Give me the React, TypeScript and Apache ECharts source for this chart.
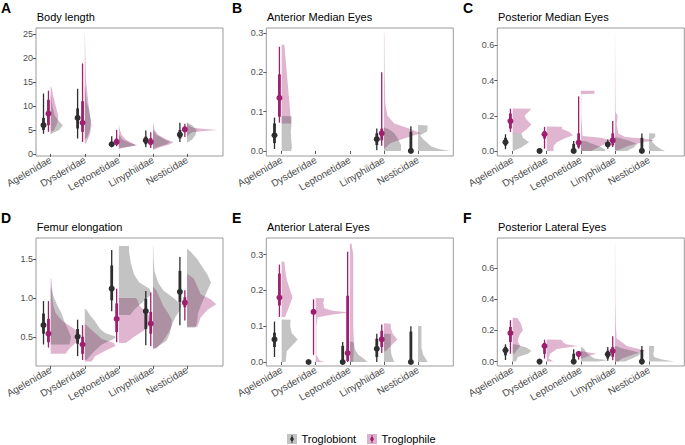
import React, { useEffect, useRef } from "react";
import * as echarts from "echarts";

const families = ["Agelenidae", "Dysderidae", "Leptonetidae", "Linyphiidae", "Nesticidae"];
const groups = ["Troglobiont", "Troglophile"];

// interval rows: [family, group(0 troglobiont, 1 troglophile), lo95, lo66, median, hi66, hi95]
const bodyLengthIntervals = [
  [0, 0, 4.2, 5.0, 6.0, 7.5, 12.6],
  [0, 1, 4.6, 6.0, 8.4, 11.3, 13.2],
  [1, 0, 3.2, 5.3, 7.5, 9.5, 13.6],
  [1, 1, 2.5, 4.6, 6.5, 11.0, 18.9],
  [2, 0, 1.4, 1.7, 2.0, 2.5, 3.7],
  [2, 1, 1.6, 1.9, 2.5, 3.2, 5.0],
  [3, 0, 1.4, 2.0, 2.8, 3.6, 4.9],
  [3, 1, 1.2, 1.8, 2.5, 3.3, 4.5],
  [4, 0, 2.5, 3.2, 4.0, 5.0, 6.5],
  [4, 1, 3.5, 4.6, 5.1, 5.7, 6.3],
];
const ameIntervals = [
  [0, 0, 0.005, 0.02, 0.04, 0.07, 0.085],
  [0, 1, 0.072, 0.087, 0.135, 0.195, 0.265],
  [3, 0, 0.002, 0.015, 0.03, 0.045, 0.057],
  [3, 1, 0.013, 0.027, 0.045, 0.057, 0.2],
  [4, 0, 0, 0, 0, 0.049, 0.063],
];
const pmeIntervals = [
  [0, 0, 0.01, 0.03, 0.05, 0.075, 0.095],
  [0, 1, 0.108, 0.128, 0.17, 0.213, 0.24],
  [1, 0, 0, 0, 0, 0, 0],
  [1, 1, 0.013, 0.07, 0.095, 0.114, 0.137],
  [2, 0, 0, 0, 0, 0.04, 0.057],
  [2, 1, 0.013, 0.02, 0.048, 0.1, 0.31],
  [3, 0, 0.013, 0.025, 0.038, 0.05, 0.065],
  [3, 1, 0.023, 0.032, 0.06, 0.1, 0.17],
  [4, 0, 0, 0, 0, 0.075, 0.1],
];
const femurIntervals = [
  [0, 0, 0.4, 0.54, 0.65, 0.8, 0.96],
  [0, 1, 0.36, 0.43, 0.54, 0.73, 0.96],
  [1, 0, 0.25, 0.41, 0.5, 0.6, 0.72],
  [1, 1, 0.2, 0.28, 0.4, 0.5, 0.65],
  [2, 0, 0.83, 0.97, 1.12, 1.42, 1.62],
  [2, 1, 0.43, 0.56, 0.73, 0.93, 1.12],
  [3, 0, 0.39, 0.6, 0.83, 0.99, 1.09],
  [3, 1, 0.38, 0.54, 0.67, 0.82, 1.07],
  [4, 0, 0.65, 0.95, 1.08, 1.35, 1.53],
  [4, 1, 0.71, 0.88, 0.94, 1.01, 1.1],
];
const aleIntervals = [
  [0, 0, 0.014, 0.042, 0.063, 0.082, 0.113],
  [0, 1, 0.126, 0.158, 0.18, 0.247, 0.272],
  [1, 0, 0, 0, 0, 0, 0],
  [1, 1, 0.02, 0.135, 0.14, 0.145, 0.175],
  [2, 0, 0, 0, 0, 0.045, 0.056],
  [2, 1, 0.0, 0.003, 0.025, 0.185, 0.308],
  [3, 0, 0.0, 0.014, 0.037, 0.065, 0.079],
  [3, 1, 0.025, 0.042, 0.063, 0.087, 0.105],
  [4, 0, 0, 0, 0, 0.085, 0.1],
];
const pleIntervals = [
  [0, 0, 0.01, 0.04, 0.072, 0.095, 0.111],
  [0, 1, 0.05, 0.126, 0.183, 0.222, 0.265],
  [1, 0, 0, 0, 0, 0, 0],
  [1, 1, 0.02, 0.05, 0.1, 0.12, 0.14],
  [2, 0, 0, 0, 0, 0.05, 0.079],
  [2, 1, 0.013, 0.03, 0.05, 0.06, 0.068],
  [3, 0, 0.005, 0.02, 0.047, 0.07, 0.094],
  [3, 1, 0.009, 0.03, 0.068, 0.094, 0.162],
  [4, 0, 0, 0, 0, 0.075, 0.1],
];

// density rows: [family, group, [[value, halfWidth], ...]]
const bodyLengthDensity: any[] = [
  [0, 1, [[4.5, 0], [5, 0.1], [6.5, 0.2], [8, 0.22], [10, 0.15], [12, 0.08], [14, 0.02], [14.2, 0]]],
  [0, 0, [[4, 0], [4.3, 0.05], [5, 0.25], [6, 0.36], [7, 0.22], [8, 0.12], [10, 0.05], [12, 0.01], [12.5, 0]]],
  [1, 1, [[2, 0], [2.5, 0.05], [4, 0.15], [6, 0.2], [8, 0.15], [11, 0.1], [15, 0.04], [20, 0.02], [25, 0.005], [25.2, 0]]],
  [1, 0, [[3, 0], [3.5, 0.08], [5, 0.15], [7, 0.18], [9, 0.13], [11, 0.05], [14, 0.01], [14.2, 0]]],
  [2, 1, [[1, 0], [1.4, 0.2], [1.8, 0.5], [2.2, 0.4], [3, 0.2], [4, 0.08], [5, 0.03], [6, 0.005], [6.1, 0]]],
  [2, 0, [[1.2, 0], [1.5, 0.3], [1.8, 0.55], [2.2, 0.35], [3, 0.1], [4, 0.01], [4.1, 0]]],
  [3, 1, [[0.8, 0], [1.5, 0.25], [2, 0.5], [2.5, 0.6], [3, 0.4], [4, 0.15], [5, 0.05], [6.5, 0.005], [6.6, 0]]],
  [3, 0, [[1, 0], [1.5, 0.15], [2, 0.4], [2.5, 0.5], [3, 0.35], [4, 0.1], [5, 0.01], [5.1, 0]]],
  [4, 1, [[3.5, 0], [4, 0.05], [4.5, 0.15], [4.8, 0.5], [5, 0.9], [5.2, 0.5], [5.5, 0.15], [6, 0.05], [6.5, 0.005], [6.6, 0]]],
  [4, 0, [[2.2, 0], [2.5, 0.03], [3, 0.15], [4, 0.25], [5, 0.28], [6, 0.15], [6.5, 0.02], [6.6, 0]]],
];
const ameDensity: any[] = [
  [0, 1, [[0.07, 0.28], [0.1, 0.25], [0.15, 0.2], [0.2, 0.15], [0.25, 0.1], [0.27, 0.08], [0.271, 0]]],
  [0, 0, [[0, 0.28], [0.01, 0.3], [0.03, 0.28], [0.05, 0.27], [0.07, 0.29], [0.088, 0.29], [0.089, 0]]],
  [3, 1, [[0.005, 0], [0.02, 0.2], [0.035, 0.7], [0.045, 1.08], [0.055, 0.8], [0.07, 0.3], [0.09, 0.1], [0.12, 0.04], [0.2, 0.02], [0.3, 0.01], [0.302, 0]]],
  [3, 0, [[0, 0.5], [0.015, 0.5], [0.03, 0.42], [0.045, 0.3], [0.055, 0.15], [0.06, 0]]],
  [4, 0, [[0, 0.95], [0.005, 0.6], [0.012, 0.38], [0.02, 0.28], [0.03, 0.15], [0.04, 0.06], [0.05, 0.27], [0.065, 0.28], [0.066, 0]]],
];
const pmeDensity: any[] = [
  [0, 1, [[0.1, 0.25], [0.12, 0.4], [0.15, 0.55], [0.18, 0.4], [0.2, 0.35], [0.22, 0.45], [0.24, 0.55], [0.241, 0]]],
  [0, 0, [[0, 0.02], [0.02, 0.25], [0.05, 0.48], [0.075, 0.3], [0.1, 0.26], [0.101, 0]]],
  [1, 1, [[0, 0.2], [0.03, 0.2], [0.05, 0.3], [0.07, 0.5], [0.09, 0.77], [0.11, 0.65], [0.125, 0.45], [0.138, 0.45], [0.139, 0]]],
  [2, 1, [[0, 0.3], [0.02, 0.5], [0.04, 0.7], [0.06, 0.9], [0.075, 0.6], [0.085, 0.05], [0.2, 0.01], [0.322, 0.01], [0.325, 0.4], [0.342, 0.4], [0.343, 0]]],
  [2, 0, [[0, 0.72], [0.01, 0.7], [0.025, 0.55], [0.04, 0.35], [0.055, 0.15], [0.057, 0]]],
  [3, 1, [[0.005, 0.1], [0.03, 0.4], [0.05, 0.8], [0.06, 1.15], [0.07, 0.9], [0.08, 0.3], [0.1, 0.1], [0.15, 0.05], [0.2, 0.08], [0.22, 0.02], [0.4, 0.01], [0.67, 0.003], [0.671, 0]]],
  [3, 0, [[0, 0.35], [0.02, 0.55], [0.04, 0.65], [0.06, 0.4], [0.075, 0.1], [0.08, 0]]],
  [4, 0, [[0, 0.47], [0.01, 0.35], [0.03, 0.2], [0.05, 0.1], [0.065, 0.08], [0.08, 0.18], [0.1, 0.18], [0.101, 0]]],
];
const femurDensity: any[] = [
  [0, 1, [[0.28, 0.44], [0.35, 0.55], [0.45, 0.8], [0.52, 0.9], [0.6, 0.7], [0.7, 0.35], [0.8, 0.15], [0.9, 0.08], [1.0, 0.05], [1.1, 0.05], [1.25, 0.02], [1.26, 0]]],
  [0, 0, [[0.4, 0.55], [0.5, 0.6], [0.6, 0.5], [0.7, 0.4], [0.8, 0.32], [0.9, 0.2], [1.0, 0.1], [1.1, 0.03], [1.15, 0]]],
  [1, 1, [[0.18, 0.2], [0.25, 0.3], [0.32, 0.6], [0.38, 0.9], [0.42, 0.85], [0.47, 0.5], [0.55, 0.3], [0.65, 0.05], [0.66, 0]]],
  [1, 0, [[0.2, 0.05], [0.3, 0.25], [0.4, 0.5], [0.47, 0.85], [0.5, 0.92], [0.55, 0.6], [0.6, 0.45], [0.7, 0.3], [0.78, 0.15], [0.85, 0.05], [0.86, 0]]],
  [2, 1, [[0.42, 0.2], [0.5, 0.45], [0.6, 0.8], [0.7, 0.95], [0.8, 0.85], [0.9, 0.6], [0.97, 0.55], [1.0, 0.5], [1.001, 0]]],
  [2, 0, [[0.78, 0.33], [0.85, 0.45], [0.95, 0.7], [1.05, 0.95], [1.12, 0.9], [1.2, 0.6], [1.3, 0.45], [1.45, 0.35], [1.6, 0.3], [1.67, 0.3], [1.671, 0]]],
  [3, 1, [[0.35, 0.1], [0.45, 0.3], [0.55, 0.45], [0.65, 0.55], [0.72, 0.55], [0.8, 0.45], [0.9, 0.3], [1.0, 0.2], [1.1, 0.1], [1.15, 0]]],
  [3, 0, [[0.35, 0.05], [0.45, 0.4], [0.55, 0.5], [0.65, 0.55], [0.75, 0.65], [0.85, 0.8], [0.92, 0.83], [1.0, 0.6], [1.1, 0.3], [1.2, 0.15], [1.35, 0.04], [1.5, 0.02], [1.68, 0.005], [1.69, 0]]],
  [4, 1, [[0.63, 0.3], [0.75, 0.4], [0.85, 0.6], [0.92, 0.86], [0.98, 0.7], [1.05, 0.4], [1.15, 0.3], [1.25, 0.2], [1.3, 0.05], [1.31, 0]]],
  [4, 0, [[0.62, 0.25], [0.7, 0.3], [0.8, 0.32], [0.9, 0.4], [1.0, 0.5], [1.1, 0.6], [1.2, 0.7], [1.3, 0.6], [1.4, 0.45], [1.5, 0.3], [1.6, 0.1], [1.63, 0.02], [1.64, 0]]],
];
const aleDensity: any[] = [
  [0, 1, [[0.126, 0.1], [0.15, 0.2], [0.18, 0.32], [0.2, 0.25], [0.23, 0.15], [0.26, 0.1], [0.28, 0.08], [0.281, 0]]],
  [0, 0, [[0, 0.12], [0.03, 0.15], [0.05, 0.35], [0.063, 0.47], [0.08, 0.3], [0.1, 0.25], [0.118, 0.26], [0.119, 0]]],
  [1, 1, [[0, 0.25], [0.005, 0.1], [0.02, 0.02], [0.1, 0.02], [0.125, 0.05], [0.133, 0.5], [0.138, 0.99], [0.143, 0.5], [0.15, 0.25], [0.165, 0.22], [0.178, 0.25], [0.179, 0]]],
  [2, 1, [[0, 0.1], [0.05, 0.12], [0.1, 0.1], [0.2, 0.1], [0.3, 0.1], [0.33, 0.05], [0.331, 0]]],
  [2, 0, [[0, 0.52], [0.01, 0.4], [0.02, 0.25], [0.035, 0.15], [0.05, 0.12], [0.056, 0.1], [0.057, 0]]],
  [3, 1, [[0.03, 0.05], [0.045, 0.2], [0.063, 0.39], [0.08, 0.25], [0.095, 0.2], [0.107, 0.2], [0.108, 0]]],
  [3, 0, [[0, 0.3], [0.02, 0.22], [0.04, 0.2], [0.06, 0.2], [0.078, 0.2], [0.079, 0]]],
  [4, 0, [[0, 0.28], [0.01, 0.22], [0.02, 0.15], [0.04, 0.1], [0.07, 0.1], [0.1, 0.1], [0.101, 0]]],
];
const pleDensity: any[] = [
  [0, 1, [[0.05, 0.05], [0.08, 0.15], [0.1, 0.22], [0.13, 0.15], [0.17, 0.2], [0.2, 0.3], [0.24, 0.25], [0.27, 0.17], [0.28, 0.15], [0.281, 0]]],
  [0, 0, [[0, 0.1], [0.03, 0.15], [0.05, 0.45], [0.07, 0.55], [0.09, 0.4], [0.11, 0.1], [0.111, 0]]],
  [1, 1, [[0, 0.2], [0.02, 0.05], [0.05, 0.1], [0.08, 0.3], [0.1, 0.9], [0.11, 0.6], [0.12, 0.5], [0.14, 0.43], [0.141, 0]]],
  [2, 1, [[0.02, 0.05], [0.035, 0.2], [0.05, 0.46], [0.06, 0.2], [0.065, 0.1], [0.066, 0]]],
  [2, 0, [[0, 0.5], [0.008, 0.8], [0.02, 0.4], [0.04, 0.25], [0.06, 0.15], [0.08, 0.1], [0.09, 0.05], [0.091, 0]]],
  [3, 1, [[0, 0.1], [0.02, 0.2], [0.05, 0.6], [0.07, 0.9], [0.1, 0.35], [0.15, 0.05], [0.19, 0.04], [0.2, 0.03], [0.4, 0.01], [0.75, 0.005], [0.751, 0]]],
  [3, 0, [[0, 0.3], [0.02, 0.5], [0.04, 0.7], [0.055, 0.75], [0.07, 0.5], [0.085, 0.2], [0.1, 0.02], [0.101, 0]]],
  [4, 0, [[0, 0.75], [0.005, 0.6], [0.015, 0.35], [0.03, 0.15], [0.05, 0.12], [0.07, 0.15], [0.1, 0.15], [0.101, 0]]],
];

const bodyLengthTicks = [0, 5, 10, 15, 20, 25];
const ameTicks = [0, 0.1, 0.2, 0.3];
const pmeTicks = [0, 0.2, 0.4, 0.6];
const femurTicks = [0.5, 1.0, 1.5];
const aleTicks = [0, 0.1, 0.2, 0.3];
const pleTicks = [0, 0.2, 0.4, 0.6];

const FONT = "'Liberation Sans', Arial, Helvetica, sans-serif";
const DARK = "#2e2e2e";
const MAGENTA = "#9e1f6f";
const GRAY_FILL = "rgba(60,60,60,0.31)";
const PINK_FILL = "rgba(158,31,111,0.33)";

const panels = [
  { letter: "A", title: "Body length", intervals: bodyLengthIntervals, density: bodyLengthDensity, ticks: bodyLengthTicks, dec: 0, ymin: -0.45, ymax: 26.3, xmin: 0.57, left: 36, top: 28 },
  { letter: "B", title: "Anterior Median Eyes", intervals: ameIntervals, density: ameDensity, ticks: ameTicks, dec: 1, ymin: -0.0128, ymax: 0.3128, xmin: 0.55, left: 266.3, top: 28 },
  { letter: "C", title: "Posterior Median Eyes", intervals: pmeIntervals, density: pmeDensity, ticks: pmeTicks, dec: 1, ymin: -0.0286, ymax: 0.6994, xmin: 0.55, left: 497.3, top: 28 },
  { letter: "D", title: "Femur elongation", intervals: femurIntervals, density: femurDensity, ticks: femurTicks, dec: 1, ymin: 0.123, ymax: 1.774, xmin: 0.57, left: 36, top: 238 },
  { letter: "E", title: "Anterior Lateral Eyes", intervals: aleIntervals, density: aleDensity, ticks: aleTicks, dec: 1, ymin: -0.0112, ymax: 0.3464, xmin: 0.55, left: 266.3, top: 238 },
  { letter: "F", title: "Posterior Lateral Eyes", intervals: pleIntervals, density: pleDensity, ticks: pleTicks, dec: 1, ymin: -0.0282, ymax: 0.7923, xmin: 0.55, left: 497.3, top: 238 },
];
const PW = 187;
const PH = 128;
const XSPAN = PW / 34.1;

function densitySeries(p: number, dens: any[], group: number) {
  const rows = dens.filter((d) => d[1] === group);
  return {
    type: "custom",
    xAxisIndex: p,
    yAxisIndex: p,
    clip: true,
    silent: true,
    z: 2,
    data: rows.map((r, i) => [r[0] + 1, r[2][0][0], i]),
    encode: { x: 0, y: 1 },
    renderItem: (params: any, api: any) => {
      const r = rows[params.dataIndex];
      const x0 = r[0] + 1;
      const pts = r[2];
      const poly: number[][] = [api.coord([x0, pts[0][0]])];
      for (const [y, w] of pts) poly.push(api.coord([x0 + w, y]));
      poly.push(api.coord([x0, pts[pts.length - 1][0]]));
      return {
        type: "polygon",
        shape: { points: poly },
        style: { fill: group === 0 ? GRAY_FILL : PINK_FILL, stroke: "none" },
      };
    },
  };
}

function intervalSeries(p: number, ints: any[], group: number) {
  const rows = ints.filter((d) => d[1] === group);
  const col = group === 0 ? DARK : MAGENTA;
  const off = group === 0 ? -0.21 : -0.065;
  return {
    type: "custom",
    xAxisIndex: p,
    yAxisIndex: p,
    clip: false,
    silent: true,
    z: 3,
    data: rows.map((r) => [r[0] + 1 + off, r[4]]),
    encode: { x: 0, y: 1 },
    renderItem: (params: any, api: any) => {
      const r = rows[params.dataIndex];
      const x = r[0] + 1 + off;
      const a = api.coord([x, r[2]]);
      const b = api.coord([x, r[6]]);
      const c = api.coord([x, r[3]]);
      const d = api.coord([x, r[5]]);
      const m = api.coord([x, r[4]]);
      return {
        type: "group",
        children: [
          { type: "line", shape: { x1: a[0], y1: a[1], x2: b[0], y2: b[1] }, style: { stroke: col, lineWidth: 1.3 } },
          { type: "line", shape: { x1: c[0], y1: c[1], x2: d[0], y2: d[1] }, style: { stroke: col, lineWidth: 2.8 } },
          { type: "circle", shape: { cx: m[0], cy: m[1], r: 3 }, style: { fill: col } },
        ],
      };
    },
  };
}

export default function App() {
  const ref = useRef<HTMLDivElement>(null);
  useEffect(() => {
    if (!ref.current) return;
    const chart = echarts.init(ref.current, undefined, { renderer: "svg" });
    const grid: any[] = [];
    const xAxis: any[] = [];
    const yAxis: any[] = [];
    const series: any[] = [];
    const graphic: any[] = [];
    panels.forEach((pn, p) => {
      grid.push({
        left: pn.left,
        top: pn.top,
        width: PW,
        height: PH,
        show: true,
        borderColor: "#9a9a9a",
        borderWidth: 1,
        backgroundColor: "#ffffff",
        containLabel: false,
      });
      xAxis.push({
        type: "value",
        gridIndex: p,
        min: pn.xmin,
        max: pn.xmin + XSPAN,
        axisLine: { show: false },
        splitLine: { show: false },
        axisTick: { show: true, customValues: [1, 2, 3, 4, 5], length: 3, lineStyle: { color: "#333333", width: 0.8 } },
        axisLabel: {
          customValues: [1, 2, 3, 4, 5],
          formatter: (v: number) => families[Math.round(v) - 1] || "",
          rotate: 30,
          fontSize: 10,
          fontFamily: FONT,
          color: "#4d4d4d",
          margin: 3,
        },
      });
      yAxis.push({
        type: "value",
        gridIndex: p,
        min: pn.ymin,
        max: pn.ymax,
        axisLine: { show: false },
        splitLine: { show: false },
        axisTick: { show: true, customValues: pn.ticks, length: 3, lineStyle: { color: "#333333", width: 0.8 } },
        axisLabel: {
          customValues: pn.ticks,
          formatter: (v: number) => v.toFixed(pn.dec),
          fontSize: 9,
          fontFamily: FONT,
          color: "#4d4d4d",
          margin: 3,
        },
      });
      series.push(densitySeries(p, pn.density, 1));
      series.push(densitySeries(p, pn.density, 0));
      series.push(intervalSeries(p, pn.intervals, 0));
      series.push(intervalSeries(p, pn.intervals, 1));
      const lx = p % 3 === 0 ? 1 : p % 3 === 1 ? 232 : 463;
      const ly = pn.top < 100 ? 7.5 : 218;
      graphic.push({
        type: "text",
        x: lx,
        y: ly,
        style: { text: pn.letter, font: `bold 14px ${FONT}`, fill: "#000", textVerticalAlign: "middle" },
      });
      graphic.push({
        type: "text",
        x: pn.left + 0.7,
        y: pn.top - 11.3,
        style: { text: pn.title, font: `11px ${FONT}`, fill: "#000", textVerticalAlign: "middle" },
      });
    });
    // legend
    const legendY = 439;
    const legendItems = [
      { x: 287, fill: "#c3c3c3", col: DARK, tx: 301.5 },
      { x: 367, fill: "#dbb3cf", col: MAGENTA, tx: 381.5 },
    ];
    legendItems.forEach((li, i) => {
      graphic.push({ type: "rect", shape: { x: li.x, y: legendY - 5, width: 10, height: 10 }, style: { fill: li.fill } });
      graphic.push({ type: "line", shape: { x1: li.x + 5, y1: legendY - 4, x2: li.x + 5, y2: legendY + 4 }, style: { stroke: li.col, lineWidth: 1 } });
      graphic.push({ type: "line", shape: { x1: li.x + 5, y1: legendY - 2, x2: li.x + 5, y2: legendY + 2 }, style: { stroke: li.col, lineWidth: 2 } });
      graphic.push({ type: "circle", shape: { cx: li.x + 5, cy: legendY, r: 1.8 }, style: { fill: li.col } });
      graphic.push({
        type: "text",
        x: li.tx,
        y: legendY,
        style: { text: groups[i], font: `11px ${FONT}`, fill: "#000", textVerticalAlign: "middle" },
      });
    });
    chart.setOption({
      animation: false,
      backgroundColor: "#ffffff",
      grid,
      xAxis,
      yAxis,
      series,
      graphic,
    });
    return () => chart.dispose();
  }, []);
  return <div ref={ref} style={{ position: "absolute", left: 0, top: 0, width: 685, height: 445 }} />;
}
